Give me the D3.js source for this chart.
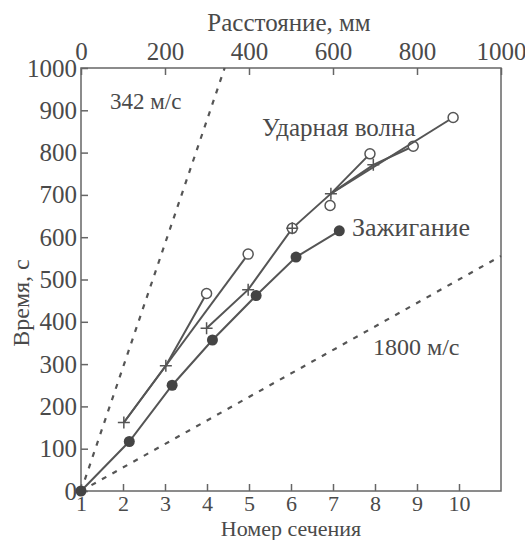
<!DOCTYPE html>
<html>
<head>
<meta charset="utf-8">
<script src="https://cdn.jsdelivr.net/npm/d3@7"></script>
<style>
  body { margin: 0; background: #fff; }
  svg { display: block; }
  .axis text { font-family: "Liberation Serif", "DejaVu Serif", serif; font-size: 25px; fill: #4a4a4a; }
  .axis line { stroke: #666; stroke-width: 1.5; }
  .lbl { font-family: "Liberation Serif", "DejaVu Serif", serif; font-size: 25px; fill: #4a4a4a; }
</style>
</head>
<body>
<div id="chart"></div>
<script>
// section numbers on bottom axis, distance (mm) on top axis, time on left axis
const sectionTicks = [1, 2, 3, 4, 5, 6, 7, 8, 9, 10];
const distanceTicks = [0, 200, 400, 600, 800, 1000];
const timeTicks = [0, 100, 200, 300, 400, 500, 600, 700, 800, 900, 1000];

// ignition (filled circles)
const ignitionSec = [1, 2.15, 3.17, 4.13, 5.17, 6.12, 7.15];
const ignitionTime = [0, 117, 250, 357, 462, 553, 615];

// shock wave runs ('+' cross, 'o' open circle, 'b' both, '' none)
const runASec = [2.02, 3.02, 3.99];
const runATime = [162, 296, 467];
const runAMark = ['+', '+', 'o'];

const runBSec = [2.02, 4.98];
const runBTime = [162, 560];
const runBMark = ['', 'o'];

const runCSec = [3.99, 4.98, 6.03, 6.95, 7.88];
const runCTime = [385, 476, 621, 703, 797];
const runCMark = ['+', '+', 'b', '+', 'o'];

const runDSec = [6.95, 7.96, 8.91];
const runDTime = [703, 771, 815];
const runDMark = ['', '+', 'o'];

const runESec = [6.95, 9.86];
const runETime = [703, 883];
const runEMark = ['', 'o'];

const loneSec = [6.93];
const loneTime = [675];
const loneMark = ['o'];

// reference speed lines, distance (mm) vs time
const ref342Dist = [0, 342];
const ref342Time = [0, 1000];
const ref1800Dist = [0, 1000];
const ref1800Time = [0, 555.6];

const width = 525, height = 540;
const margin = { top: 68, right: 24, bottom: 49, left: 81 };
const innerW = width - margin.left - margin.right;
const innerH = height - margin.top - margin.bottom;

const svg = d3.select('#chart').append('svg')
  .attr('width', width)
  .attr('height', height);

const g = svg.append('g')
  .attr('transform', `translate(${margin.left}, ${margin.top})`);

const x = d3.scaleLinear().domain([1, 11]).range([0, innerW]);
const xTop = d3.scaleLinear().domain([0, 1000]).range([0, innerW]);
const y = d3.scaleLinear().domain([0, 1000]).range([innerH, 0]);

const grey = '#555';

// axes with inward ticks
g.append('g')
  .attr('class', 'axis')
  .attr('transform', `translate(0, ${innerH})`)
  .call(d3.axisBottom(x).tickValues(sectionTicks).tickSize(-7).tickPadding(4).tickFormat(d3.format('d')))
  .call(a => a.select('.domain').remove())
  .call(a => a.selectAll('text').style('font-size', '22px'));

g.append('g')
  .attr('class', 'axis')
  .call(d3.axisTop(xTop).tickValues(distanceTicks).tickSize(-7).tickPadding(8).tickFormat(d3.format('d')))
  .call(a => a.select('.domain').remove());

g.append('g')
  .attr('class', 'axis')
  .call(d3.axisLeft(y).tickValues(timeTicks).tickSize(-7).tickPadding(4).tickFormat(d3.format('d')))
  .call(a => a.select('.domain').remove());

g.append('rect')
  .attr('width', innerW)
  .attr('height', innerH)
  .attr('fill', 'none')
  .attr('stroke', '#666')
  .attr('stroke-width', 1.5);

// dotted speed lines
const refLine = d3.line().x(d => xTop(d[0])).y(d => y(d[1]));
[[ref342Dist, ref342Time], [ref1800Dist, ref1800Time]].forEach(([ds, ts]) => {
  g.append('path')
    .datum(d3.zip(ds, ts))
    .attr('d', refLine)
    .attr('fill', 'none')
    .attr('stroke', grey)
    .attr('stroke-width', 2.2)
    .attr('stroke-dasharray', '5 7');
});

const line = d3.line().x(d => x(d[0])).y(d => y(d[1]));

function drawRun(secs, times, marks) {
  const pts = d3.zip(secs, times, marks);
  if (pts.length > 1) {
    g.append('path')
      .datum(pts)
      .attr('d', line)
      .attr('fill', 'none')
      .attr('stroke', grey)
      .attr('stroke-width', 2);
  }
  pts.forEach(([s, t, m]) => {
    const cx = x(s), cy = y(t);
    if (m === 'o' || m === 'b') {
      g.append('circle')
        .attr('cx', cx).attr('cy', cy).attr('r', 5)
        .attr('fill', '#fff')
        .attr('stroke', grey)
        .attr('stroke-width', 1.5);
    }
    if (m === '+' || m === 'b') {
      g.append('path')
        .attr('d', `M${cx - 6},${cy}H${cx + 6}M${cx},${cy - 6}V${cy + 6}`)
        .attr('stroke', grey)
        .attr('stroke-width', 1.5);
    }
    if (m === 'f') {
      g.append('circle')
        .attr('cx', cx).attr('cy', cy).attr('r', 5.5)
        .attr('fill', '#444');
    }
  });
}

drawRun(ignitionSec, ignitionTime, ignitionSec.map(() => 'f'));
drawRun(runASec, runATime, runAMark);
drawRun(runBSec, runBTime, runBMark);
drawRun(runCSec, runCTime, runCMark);
drawRun(runDSec, runDTime, runDMark);
drawRun(runESec, runETime, runEMark);
drawRun(loneSec, loneTime, loneMark);

// labels
svg.append('text').attr('class', 'lbl')
  .attr('x', 289).attr('y', 31).attr('text-anchor', 'middle')
  .text('Расстояние, мм');

svg.append('text').attr('class', 'lbl')
  .attr('x', 291).attr('y', 535.5).attr('text-anchor', 'middle')
  .style('font-size', '22px')
  .text('Номер сечения');

svg.append('text').attr('class', 'lbl')
  .attr('transform', 'translate(29, 303) rotate(-90)')
  .attr('text-anchor', 'middle')
  .style('font-size', '24px')
  .text('Время, с');

svg.append('text').attr('class', 'lbl')
  .attr('x', 262).attr('y', 136)
  .text('Ударная волна');

svg.append('text').attr('class', 'lbl')
  .attr('x', 352).attr('y', 236)
  .style('font-size', '26px')
  .text('Зажигание');

svg.append('text').attr('class', 'lbl')
  .attr('x', 110).attr('y', 109)
  .style('font-size', '23px')
  .text('342 м/с');

svg.append('text').attr('class', 'lbl')
  .attr('x', 373).attr('y', 355)
  .style('font-size', '24px')
  .text('1800 м/с');
</script>
</body>
</html>
